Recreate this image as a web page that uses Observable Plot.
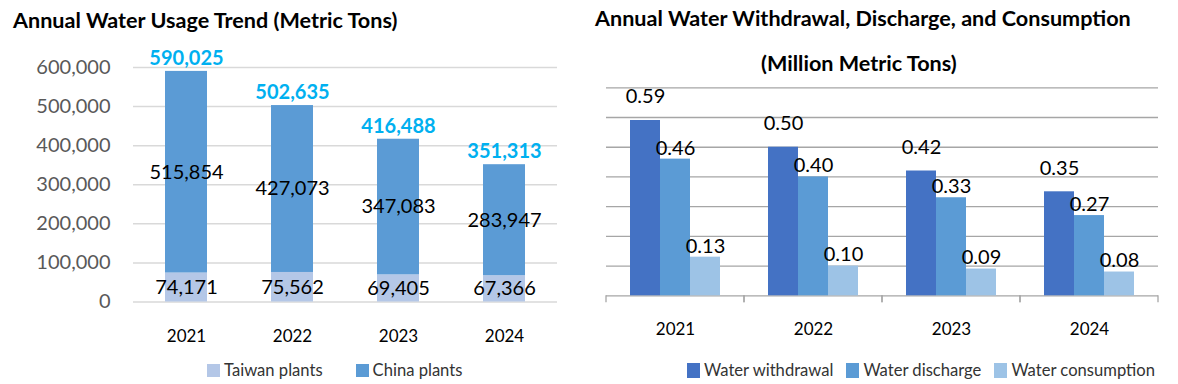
<!DOCTYPE html>
<html>
<head>
<meta charset="utf-8">
<script src="https://cdn.jsdelivr.net/npm/d3@7"></script>
<script src="https://cdn.jsdelivr.net/npm/@observablehq/plot@0.6"></script>
<style>
  body { margin: 0; background: #fff; font-family: Lato, "DejaVu Sans", sans-serif; }
  #root { position: relative; width: 1178px; height: 384px; overflow: hidden; background: #fff; }
  .abs { position: absolute; }
  .title { font-family: Lato, sans-serif; font-weight: bold; font-size: 21.6px; line-height: 1; color: #000; white-space: nowrap; }
  .legwrap .lgA-swatches, .legwrap .lgB-swatches { font-family: Lato, sans-serif !important; font-size: 16.6px !important; color: #333 !important; margin: 0 !important; line-height: 1 !important; min-height: 0 !important; }
  .legwrap .lgA-swatch { margin-right: 33px !important; }
  .legwrap .lgB-swatch { margin-right: 13px !important; }
  .legwrap .lgA-swatch > svg, .legwrap .lgB-swatch > svg { margin-right: 4px !important; }
</style>
</head>
<body>
<div id="root">
  <div class="abs title" style="left:13px;top:10px;">Annual Water Usage Trend (Metric Tons)</div>
  <div class="abs title" style="left:595px;top:7.5px;">Annual Water Withdrawal, Discharge, and Consumption</div>
  <div class="abs title" style="left:761px;top:52.5px;">(Million Metric Tons)</div>
  <div id="chartA" class="abs" style="left:0;top:0;"></div>
  <div id="chartB" class="abs" style="left:590px;top:0;"></div>
  <div id="legA" class="abs legwrap" style="left:207px;top:362px;"></div>
  <div id="legB" class="abs legwrap" style="left:687px;top:362px;"></div>
</div>
<script>
// ---- Data: left chart (Annual Water Usage Trend, metric tons) ----
const years = ["2021", "2022", "2023", "2024"];
const regions = ["Taiwan plants", "China plants"];
const taiwanPlants = [74171, 75562, 69405, 67366];
const chinaPlants = [515854, 427073, 347083, 283947];
const totalUsage = [590025, 502635, 416488, 351313];
const usageTicks = [0, 100000, 200000, 300000, 400000, 500000, 600000];

// ---- Data: right chart (million metric tons) ----
const flowSeries = ["Water withdrawal", "Water discharge", "Water consumption"];
const withdrawal = [0.59, 0.50, 0.42, 0.35];
const discharge = [0.46, 0.40, 0.33, 0.27];
const consumption = [0.13, 0.10, 0.09, 0.08];
const flowTicks = [0.1, 0.2, 0.3, 0.4, 0.5, 0.6, 0.7];

// ---- Styles ----
const regionColors = ["#B4C7E7", "#5B9BD5"];
const flowColors = ["#4472C4", "#5B9BD5", "#9DC3E6"];
const font = "Lato, sans-serif";
const fmtInt = d3.format(",");
const fmt2 = d3.format(".2f");

// ---- Tables built from the arrays ----
const usage = years.flatMap((year, i) => [
  {year, region: regions[0], value: taiwanPlants[i]},
  {year, region: regions[1], value: chinaPlants[i]}
]);
const totals = years.map((year, i) => ({year, total: totalUsage[i]}));

const seriesValues = [withdrawal, discharge, consumption];
const flows = years.flatMap((year, i) =>
  flowSeries.map((series, s) => ({year, series, value: seriesValues[s][i]}))
);

// ---- Left chart ----
const chartA = Plot.plot({
  width: 580,
  height: 350,
  marginLeft: 133,
  marginRight: 23,
  marginTop: 67,
  marginBottom: 48.5,
  style: {fontFamily: font, background: "none", overflow: "visible"},
  x: {domain: years, paddingInner: 0.6, paddingOuter: 0.3},
  y: {domain: [0, 600000]},
  color: {domain: regions, range: regionColors},
  marks: [
    Plot.gridY(usageTicks, {stroke: "#D9D9D9", strokeOpacity: 1, strokeWidth: 1.5}),
    Plot.axisY(usageTicks, {tickSize: 0, tickPadding: 23, fontSize: 20, fill: "#595959", tickFormat: fmtInt, label: null}),
    Plot.axisX({tickSize: 0, tickPadding: 28, fontSize: 17, fill: "#000", label: null}),
    Plot.barY(usage, {x: "year", y: "value", fill: "region"}),
    Plot.text(usage, Plot.stackY({x: "year", y: "value", z: "region", text: d => fmtInt(d.value), fontSize: 20, fill: "#000"})),
    Plot.text(totals, {x: "year", y: "total", text: d => fmtInt(d.total), dy: -13, fontSize: 20, fontWeight: "bold", fill: "#00B0F0"})
  ]
});
document.getElementById("chartA").append(chartA);

// ---- Right chart ----
function boundaryTicks(index, scales, values, dims) {
  const y0 = scales.y(0);
  const g = d3.create("svg:g").attr("stroke", "#A6A6A6").attr("stroke-width", 1.3);
  for (const x of [dims.marginLeft, dims.width - dims.marginRight]) {
    g.append("line").attr("x1", x).attr("x2", x).attr("y1", y0).attr("y2", y0 + 7);
  }
  return g.node();
}

const chartB = Plot.plot({
  width: 588,
  height: 350,
  marginLeft: 15,
  marginRight: 20,
  marginTop: 87.3,
  marginBottom: 54.7,
  style: {fontFamily: font, background: "none", overflow: "visible"},
  fx: {domain: years, padding: 0, label: null},
  x: {domain: flowSeries, paddingInner: 0, paddingOuter: 0.755, axis: null},
  y: {domain: [0, 0.7], axis: null},
  color: {domain: flowSeries, range: flowColors},
  marks: [
    Plot.gridY(flowTicks, {stroke: "#A6A6A6", strokeOpacity: 1, strokeWidth: 1.3}),
    Plot.ruleY([0], {stroke: "#A6A6A6", strokeWidth: 1.3}),
    boundaryTicks,
    Plot.barY(flows, {fx: "year", x: "series", y: "value", fill: "series"}),
    Plot.text(flows.filter(d => d.series === flowSeries[0]), {fx: "year", x: "series", y: "value", text: d => fmt2(d.value), dy: -23.5, fontSize: 20, fill: "#000"}),
    Plot.text(flows.filter(d => d.series !== flowSeries[0]), {fx: "year", x: "series", y: "value", text: d => fmt2(d.value), dy: -11, fontSize: 20, fill: "#000"}),
    Plot.axisFx({anchor: "bottom", tickSize: 0, tickPadding: 27, fontSize: 17, fill: "#000", label: null})
  ]
});
document.getElementById("chartB").append(chartB);

// ---- Legends ----
document.getElementById("legA").append(Plot.legend({
  color: {type: "ordinal", domain: regions, range: regionColors},
  swatchWidth: 13, swatchHeight: 13, className: "lgA"
}));
document.getElementById("legB").append(Plot.legend({
  color: {type: "ordinal", domain: flowSeries, range: flowColors},
  swatchWidth: 13, swatchHeight: 15, className: "lgB"
}));
</script>
</body>
</html>
